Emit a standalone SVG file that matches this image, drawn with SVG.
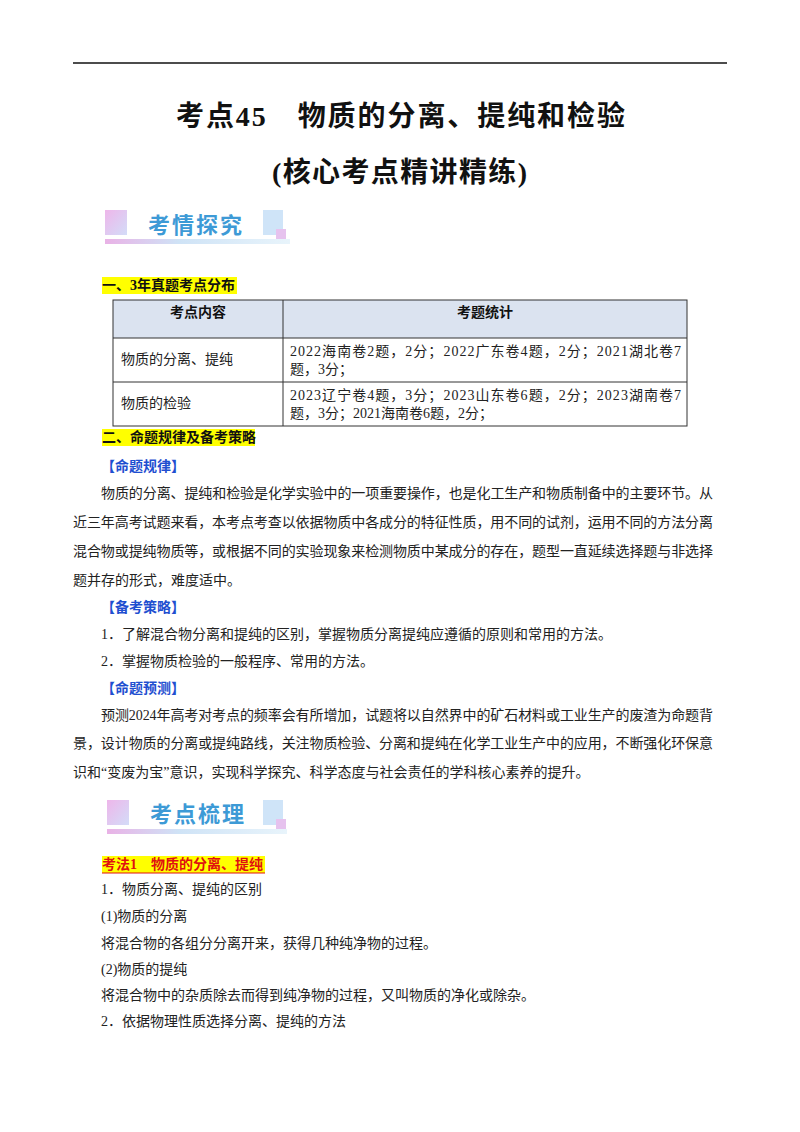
<svg xmlns="http://www.w3.org/2000/svg" width="800" height="1132" viewBox="0 0 800 1132">
<defs>
<style>
.b{font-family:"Liberation Serif","Noto Sans CJK SC",serif;font-size:14px;fill:#222}
.h{font-family:"Liberation Serif","Noto Sans CJK SC",serif;font-size:14px;font-weight:bold;fill:#111}
.t{font-family:"Liberation Serif","Noto Sans CJK SC",serif;font-size:28px;font-weight:bold;fill:#111}
.bl{font-family:"Liberation Serif","Noto Sans CJK SC",serif;font-size:14px;font-weight:bold;fill:#1f4fd0}
.bn{font-family:"Noto Sans CJK SC",sans-serif;font-size:22px;font-weight:bold;fill:#3d9ad6;letter-spacing:2px}
</style>
<linearGradient id="pk" x1="0" y1="0" x2="1" y2="1"><stop offset="0" stop-color="#eeb6ea"/><stop offset="1" stop-color="#d3dcf8"/></linearGradient>
<linearGradient id="bar" x1="0" y1="0" x2="1" y2="0"><stop offset="0" stop-color="#e9b2e6"/><stop offset="0.4" stop-color="#cfe3f6"/><stop offset="1" stop-color="#e8f4fb"/></linearGradient>
</defs>
<line x1="73" y1="63" x2="727" y2="63" stroke="#111" stroke-width="1.5"/>
<text class="t" x="176" y="126" textLength="449">考点45　物质的分离、提纯和检验</text>
<text class="t" x="272" y="182" textLength="255">(核心考点精讲精练)</text>
<g id="banner1">
<rect x="105" y="210" width="22" height="25" fill="url(#pk)"/>
<rect x="263" y="210" width="20" height="25" fill="#cfe4f8"/>
<rect x="276" y="229" width="10" height="10" fill="#e6c2ee"/>
<rect x="105" y="239" width="185" height="5" fill="url(#bar)"/>
<text class="bn" x="148" y="233">考情探究</text>
</g>
<rect x="102" y="277" width="135" height="17" fill="#ffff00"/>
<text class="h" x="102" y="290">一、3年真题考点分布</text>
<g id="table">
<rect x="113" y="300" width="574" height="38" fill="#dbe3f0"/>
<rect x="113" y="300" width="574" height="126" fill="none" stroke="#333" stroke-width="1"/>
<line x1="283" y1="300" x2="283" y2="426" stroke="#333"/>
<line x1="113" y1="338" x2="687" y2="338" stroke="#333"/>
<line x1="113" y1="382" x2="687" y2="382" stroke="#333"/>
<text class="h" x="198" y="317" text-anchor="middle">考点内容</text>
<text class="h" x="485" y="317" text-anchor="middle">考题统计</text>
<text class="b" x="121" y="364">物质的分离、提纯</text>
<text class="b" x="290" y="356" textLength="391">2022海南卷2题，2分；2022广东卷4题，2分；2021湖北卷7</text>
<text class="b" x="290" y="374">题，3分；</text>
<text class="b" x="121" y="408">物质的检验</text>
<text class="b" x="290" y="400" textLength="391">2023辽宁卷4题，3分；2023山东卷6题，2分；2023湖南卷7</text>
<text class="b" x="290" y="418">题，3分；2021海南卷6题，2分；</text>
</g>
<rect x="102" y="429" width="153" height="17" fill="#ffff00"/>
<text class="h" x="102" y="442">二、命题规律及备考策略</text>
<text class="bl" x="101" y="471">【命题规律】</text>
<text class="b" x="101" y="498" textLength="612">物质的分离、提纯和检验是化学实验中的一项重要操作，也是化工生产和物质制备中的主要环节。从</text>
<text class="b" x="73" y="527" textLength="640">近三年高考试题来看，本考点考查以依据物质中各成分的特征性质，用不同的试剂，运用不同的方法分离</text>
<text class="b" x="73" y="556" textLength="640">混合物或提纯物质等，或根据不同的实验现象来检测物质中某成分的存在，题型一直延续选择题与非选择</text>
<text class="b" x="73" y="585">题并存的形式，难度适中。</text>
<text class="bl" x="101" y="612">【备考策略】</text>
<text class="b" x="101" y="639">1．了解混合物分离和提纯的区别，掌握物质分离提纯应遵循的原则和常用的方法。</text>
<text class="b" x="101" y="666">2．掌握物质检验的一般程序、常用的方法。</text>
<text class="bl" x="101" y="693">【命题预测】</text>
<text class="b" x="101" y="720" textLength="612">预测2024年高考对考点的频率会有所增加，试题将以自然界中的矿石材料或工业生产的废渣为命题背</text>
<text class="b" x="73" y="748" textLength="640">景，设计物质的分离或提纯路线，关注物质检验、分离和提纯在化学工业生产中的应用，不断强化环保意</text>
<text class="b" x="73" y="777">识和“变废为宝”意识，实现科学探究、科学态度与社会责任的学科核心素养的提升。</text>
<g id="banner2">
<rect x="107" y="800" width="22" height="25" fill="url(#pk)"/>
<rect x="263" y="800" width="20" height="25" fill="#cfe4f8"/>
<rect x="276" y="819" width="10" height="10" fill="#e6c2ee"/>
<rect x="107" y="829" width="180" height="5" fill="url(#bar)"/>
<text class="bn" x="150" y="822">考点梳理</text>
</g>
<rect x="102" y="856" width="163" height="17" fill="#ffff00"/>
<text class="h" x="102" y="869" style="fill:#e01010">考法1　物质的分离、提纯</text>
<line x1="102" y1="873" x2="265" y2="873" stroke="#e01010" stroke-width="1"/>
<text class="b" x="101" y="894">1．物质分离、提纯的区别</text>
<text class="b" x="101" y="921">(1)物质的分离</text>
<text class="b" x="101" y="948">将混合物的各组分分离开来，获得几种纯净物的过程。</text>
<text class="b" x="101" y="974">(2)物质的提纯</text>
<text class="b" x="101" y="1000">将混合物中的杂质除去而得到纯净物的过程，又叫物质的净化或除杂。</text>
<text class="b" x="101" y="1026">2．依据物理性质选择分离、提纯的方法</text>
</svg>
